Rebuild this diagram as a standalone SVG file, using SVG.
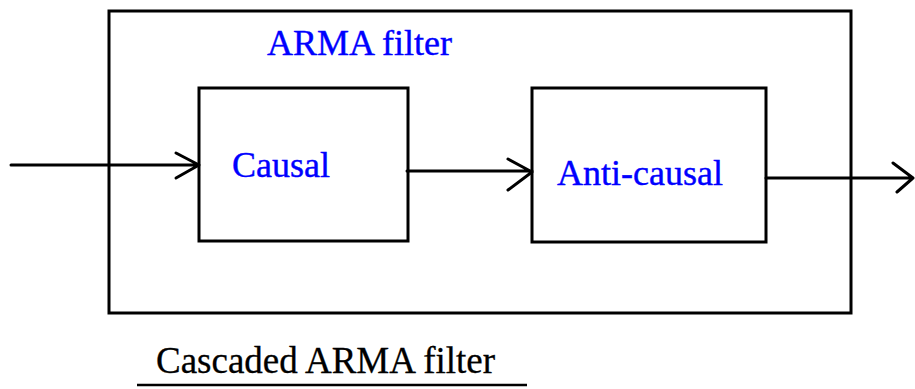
<svg xmlns="http://www.w3.org/2000/svg" width="915" height="389" viewBox="0 0 915 389">
<style>
.box{fill:none;stroke:#000;stroke-width:3}
.ln{fill:none;stroke:#000;stroke-width:3;stroke-linecap:round;stroke-linejoin:round}
.lbl{font-family:"Liberation Serif","Times New Roman",serif;font-size:36px;fill:#0000ff;stroke:#0000ff;stroke-width:0.4}
.cap{font-family:"Liberation Serif","Times New Roman",serif;font-size:37px;fill:#000;stroke:#000;stroke-width:0.3}
</style>
<rect width="915" height="389" fill="#fff"/>
<g id="arma">
<rect class="box" x="109" y="11" width="742" height="302"/>
<text class="lbl" x="267" y="55">ARMA filter</text>
</g>
<g id="causal">
<rect class="box" x="199" y="88" width="209" height="153"/>
<text class="lbl" x="232" y="177">Causal</text>
</g>
<g id="anticausal">
<rect class="box" x="532" y="88" width="234" height="154"/>
<text class="lbl" x="557" y="185">Anti-causal</text>
</g>
<g id="connectors">
<path class="ln" d="M11 165 H199 M176 153 L199 165 L176 178"/>
<path class="ln" d="M407 171 H532 M508 159 L532 172 L508 190"/>
<path class="ln" d="M766 178 H913 M893 163 L913 178 L897 192"/>
</g>
<g id="caption">
<text class="cap" x="156" y="373">Cascaded ARMA filter</text>
<line x1="137" y1="385" x2="527" y2="385" stroke="#000" stroke-width="2.5"/>
</g>
</svg>
